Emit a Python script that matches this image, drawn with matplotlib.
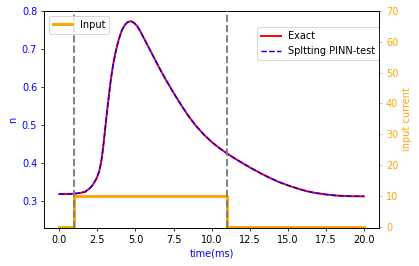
import numpy as np
import matplotlib
matplotlib.use("Agg")
import matplotlib.pyplot as plt

# values
t_n = [0.0, 0.5, 1.0, 1.4, 1.7, 2.0, 2.2, 2.45, 2.6, 2.7, 2.8, 2.9, 3.0,
       3.1, 3.2, 3.3, 3.4, 3.55, 3.7, 3.9, 4.1, 4.3, 4.5, 4.7, 4.9, 5.1,
       5.3, 5.6, 5.9, 6.3, 6.6, 7.0, 7.5, 8.0, 8.5, 9.0, 9.5, 10.0, 10.5,
       11.0, 11.5, 12.0, 12.6, 13.2, 13.8, 14.4, 15.0, 15.6, 16.2, 16.8,
       17.5, 18.2, 19.0, 20.0]
n_exact = [0.319, 0.319, 0.320, 0.322, 0.325, 0.334, 0.343, 0.360, 0.376, 0.392,
           0.415, 0.448, 0.485, 0.522, 0.557, 0.592, 0.623, 0.662, 0.692, 0.724,
           0.748, 0.763, 0.771, 0.773, 0.769, 0.761, 0.748, 0.725, 0.702, 0.671,
           0.648, 0.619, 0.585, 0.553, 0.523, 0.497, 0.475, 0.456, 0.440, 0.426,
           0.413, 0.401, 0.387, 0.374, 0.362, 0.351, 0.342, 0.334, 0.327, 0.322,
           0.318, 0.315, 0.3135, 0.313]
n_pinn = n_exact

t_input = [0, 1, 1, 11, 11, 20]
input_current = [0, 0, 10, 10, 0, 0]
t_marks = [1, 11]

fig, ax = plt.subplots(figsize=(419 / 70, 266 / 70), dpi=70)
fig.subplots_adjust(left=0.105, right=0.905, top=0.959, bottom=0.143)

ax.plot(t_n, n_exact, color='r', linewidth=2, label='Exact')
ax.plot(t_n, n_pinn, color='b', linestyle='--', linewidth=1.5, label='Spltting PINN-test')
ax.set_ylim(0.23, 0.8)
ax.set_xlim(-1, 21)
ax.set_ylabel('n', color='b')
ax.set_xlabel('time(ms)', color='b')
ax.tick_params(axis='y', labelcolor='b')
ax.legend(loc='upper right', bbox_to_anchor=(1.015, 0.946))

ax2 = ax.twinx()
ax2.plot(t_input, input_current, color='orange', linewidth=3, label='Input', zorder=3)
for tm in t_marks:
    ax2.axvline(tm, color='gray', linestyle='--', linewidth=2, zorder=3.5)
ax2.set_ylim(-0.4, 70)
ax2.set_yticks([0, 10, 20, 30, 40, 50, 60, 70])
ax2.set_ylabel('input current', color='orange')
ax2.tick_params(axis='y', colors='orange')
ax2.legend(loc='upper left')

plt.savefig('out.png', dpi=70)
